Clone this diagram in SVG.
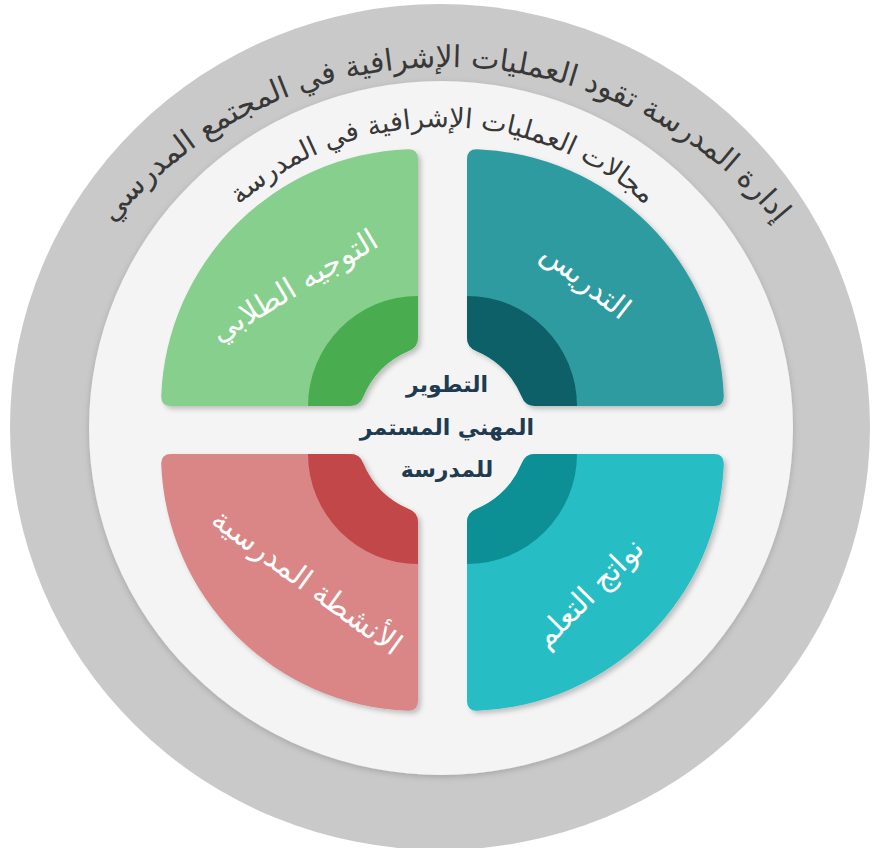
<svg xmlns="http://www.w3.org/2000/svg" xmlns:xlink="http://www.w3.org/1999/xlink" width="875" height="848" viewBox="0 0 875 848">
<style>
.ring{font-family:"DejaVu Sans",sans-serif;fill:#383838;}
.lbl{font-family:"DejaVu Sans",sans-serif;fill:#ffffff;font-size:30px;text-anchor:middle;dominant-baseline:middle;}
.ctr{font-family:"DejaVu Sans",sans-serif;font-weight:bold;fill:#1f3b50;font-size:22px;text-anchor:middle;}
</style>
<defs>
<path id="w" d="M418,159 L418,337.6 Q418,347.6 408.6,351 A86,86 0 0 0 363.3,396.6 Q359.9,406 349.9,406 L171,406 Q161,406 161.2,396 A257,257 0 0 1 408,149.2 Q418,149 418,159 Z"/>
<clipPath id="cw"><use xlink:href="#w" href="#w"/></clipPath>
<filter id="sh" x="-10%" y="-10%" width="125%" height="125%">
<feDropShadow dx="3" dy="3" stdDeviation="2.5" flood-color="#000" flood-opacity="0.22"/>
</filter>
<filter id="sh2" x="-5%" y="-5%" width="110%" height="110%">
<feDropShadow dx="0" dy="2" stdDeviation="3" flood-color="#000" flood-opacity="0.18"/>
</filter>
<path id="arcOuter" d="M15,497 A430,430 0 0 1 875,497"/>
<path id="arcInner" d="M139.5,430 A303,303 0 0 1 745.5,430"/>
</defs>
<rect width="875" height="848" fill="#ffffff"/>
<g id="outer-ring">
<ellipse cx="440" cy="427" rx="430" ry="423" fill="#c9c9c9"/>
<text class="ring" font-size="30"><textPath href="#arcOuter" xlink:href="#arcOuter" startOffset="50%" text-anchor="middle">إدارة المدرسة  تقود العمليات الإشرافية في المجتمع المدرسي</textPath></text>
</g>
<g id="inner-ring">
<ellipse cx="441" cy="428" rx="352" ry="347" fill="#f4f4f4" filter="url(#sh2)"/>
<text class="ring" font-size="27"><textPath href="#arcInner" xlink:href="#arcInner" startOffset="50%" text-anchor="middle">مجالات العمليات الإشرافية في المدرسة</textPath></text>
</g>
<g id="connectors"/>
<g id="q-guidance">
<g filter="url(#sh)"><g>
<use href="#w" xlink:href="#w" fill="#86cf8c"/>
<circle cx="418" cy="406" r="110" fill="#48ad4f" clip-path="url(#cw)"/>
</g></g>
<text class="lbl" transform="translate(295,287) rotate(-31)">التوجيه الطلابي</text>
</g>
<g id="q-teaching">
<g filter="url(#sh)"><g transform="matrix(-1 0 0 1 885 0)">
<use href="#w" xlink:href="#w" fill="#2f9ba1"/>
<circle cx="418" cy="406" r="110" fill="#0c6168" clip-path="url(#cw)"/>
</g></g>
<text class="lbl" transform="translate(585,282) rotate(38)">التدريس</text>
</g>
<g id="q-activities">
<g filter="url(#sh)"><g transform="matrix(1 0 0 -1 0 860)">
<use href="#w" xlink:href="#w" fill="#da8686"/>
<circle cx="418" cy="406" r="110" fill="#c1474a" clip-path="url(#cw)"/>
</g></g>
<text class="lbl" transform="translate(306,583) rotate(36)">الأنشطة المدرسية</text>
</g>
<g id="q-outcomes">
<g filter="url(#sh)"><g transform="matrix(-1 0 0 -1 885 860)">
<use href="#w" xlink:href="#w" fill="#25bec4"/>
<circle cx="418" cy="406" r="110" fill="#0f8f96" clip-path="url(#cw)"/>
</g></g>
<text class="lbl" transform="translate(590,594) rotate(-45)">نواتج التعلم</text>
</g>
<g id="center">
<text class="ctr" x="447" y="392">التطوير</text>
<text class="ctr" x="447" y="435">المهني المستمر</text>
<text class="ctr" x="447" y="477">للمدرسة</text>
</g>
</svg>
